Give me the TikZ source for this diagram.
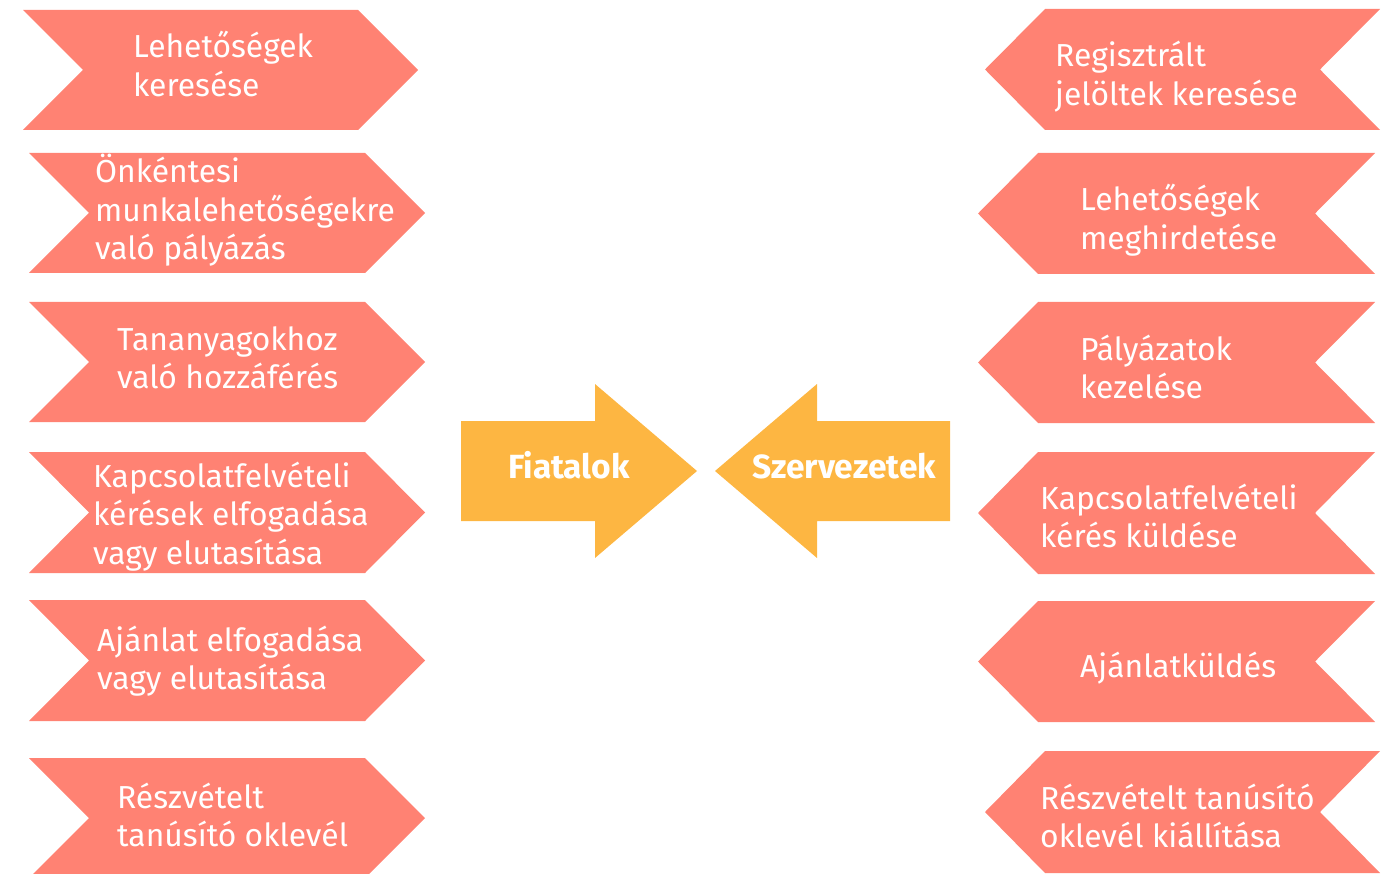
\documentclass[tikz,border=0pt]{standalone}
\usepackage{fontspec}
\setmainfont{Fira Sans}
\begin{document}
\begin{tikzpicture}[x=1pt,y=-1pt,
  chev/.style={fill=salmon,draw=none},
  arr/.style={fill=amber,draw=none},
  lbl/.style={anchor=base west,inner sep=0pt,text=white,align=left,
    font=\fontsize{31.8}{38.5}\selectfont},
  blbl/.style={anchor=base west,inner sep=0pt,text=white,
    font=\fontsize{33.5}{38.5}\selectfont\bfseries}]
\definecolor{salmon}{RGB}{255,130,115}
\definecolor{amber}{RGB}{253,182,66}
\useasboundingbox (0,0) rectangle (1389,874);
% left chevrons (pointing right)
\newcommand{\lchev}[4]{% x0, x1, top, bottom
  \fill[chev] (#1,#3) -- (#2,#3) -- ({#2+60},{(#3+#4)/2}) -- (#2,#4) -- (#1,#4) -- ({#1+60},{(#3+#4)/2}) -- cycle;}
\newcommand{\rchev}[4]{% xt, xr, top, bottom
  \fill[chev] ({#1+60},#3) -- (#2,#3) -- ({#2-60},{(#3+#4)/2}) -- (#2,#4) -- ({#1+60},#4) -- (#1,{(#3+#4)/2}) -- cycle;}
\lchev{23}{358}{10}{130}
\lchev{29}{365}{153}{273}
\lchev{29}{365}{302}{422}
\lchev{29}{365}{452}{573}
\lchev{29}{365}{600}{721}
\lchev{29}{365}{758}{878}
\rchev{985}{1380}{9}{130}
\rchev{978}{1375}{153}{274}
\rchev{978}{1375}{302}{423}
\rchev{978}{1375}{452}{574}
\rchev{978}{1375}{601}{722}
\rchev{985}{1380}{751}{873}
% central arrows
\fill[arr] (461,421) -- (595,421) -- (595,384) -- (697,471) -- (595,558) -- (595,521) -- (461,521) -- cycle;
\fill[arr] (950,421) -- (817,421) -- (817,384) -- (715,471) -- (817,558) -- (817,521) -- (950,521) -- cycle;
% labels (anchored at the baseline of the last line)
\node[lbl] (l1) at (133,96.5) {Lehetőségek\\keresése};
\node[lbl] (l2) at (95,260) {Önkéntesi\\munkalehetőségekre\\való pályázás};
\node[lbl] (l3) at (117,388.5) {Tananyagokhoz\\való hozzáférés};
\node[lbl] (l4) at (93,564) {Kapcsolatfelvételi\\kérések elfogadása\\vagy elutasítása};
\node[lbl] (l5) at (97,689.5) {Ajánlat elfogadása\\vagy elutasítása};
\node[lbl] (l6) at (117,846.5) {Részvételt\\tanúsító oklevél};
\node[lbl] (r1) at (1055,105.5) {Regisztrált\\jelöltek keresése};
\node[lbl] (r2) at (1080,249.5) {Lehetőségek\\meghirdetése};
\node[lbl] (r3) at (1080,398.5) {Pályázatok\\kezelése};
\node[lbl] (r4) at (1040,547.5) {Kapcsolatfelvételi\\kérés küldése};
\node[lbl] (r5) at (1080,677) {Ajánlatküldés};
\node[lbl] (r6) at (1040,847.5) {Részvételt tanúsító\\oklevél kiállítása};
\node[blbl] (fi) at (508,478) {Fiatalok};
\node[blbl] (sz) at (752,478) {Szervezetek};
\end{tikzpicture}
\end{document}
